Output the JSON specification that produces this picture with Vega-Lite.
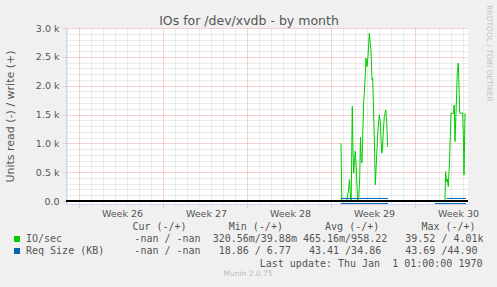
{
  "$schema": "https://vega.github.io/schema/vega-lite/v6.json",
  "width": 402,
  "height": 176,
  "autosize": "none",
  "padding": {"left": 66, "top": 28, "right": 29, "bottom": 83},
  "background": "#F0F0F0",
  "title": {"text": "Munin 2.0.75", "orient": "bottom", "anchor": "middle", "frame": "group", "dx": -19, "offset": 1, "font": "DejaVu Sans", "fontSize": 7.5, "fontWeight": "normal", "color": "#BBBBBB", "baseline": "top"},
  "config": {"view": {"fill": "white", "stroke": null}, "font": "DejaVu Sans"},
  "data": {"values": [
    {"s":"IO/sec","g":"w1","day":21.833,"v":1000},{"s":"IO/sec","g":"w1","day":21.9,"v":0},{"s":"IO/sec","g":"w1","day":22.0,"v":0},{"s":"IO/sec","g":"w1","day":22.167,"v":0},{"s":"IO/sec","g":"w1","day":22.333,"v":20},{"s":"IO/sec","g":"w1","day":22.458,"v":200},{"s":"IO/sec","g":"w1","day":22.542,"v":370},{"s":"IO/sec","g":"w1","day":22.625,"v":50},{"s":"IO/sec","g":"w1","day":22.683,"v":0},{"s":"IO/sec","g":"w1","day":22.775,"v":1640},{"s":"IO/sec","g":"w1","day":22.833,"v":900},{"s":"IO/sec","g":"w1","day":22.892,"v":480},{"s":"IO/sec","g":"w1","day":22.958,"v":700},{"s":"IO/sec","g":"w1","day":23.025,"v":860},{"s":"IO/sec","g":"w1","day":23.1,"v":600},{"s":"IO/sec","g":"w1","day":23.167,"v":250},{"s":"IO/sec","g":"w1","day":23.233,"v":0},{"s":"IO/sec","g":"w1","day":23.317,"v":60},{"s":"IO/sec","g":"w1","day":23.392,"v":400},{"s":"IO/sec","g":"w1","day":23.458,"v":1110},{"s":"IO/sec","g":"w1","day":23.517,"v":700},{"s":"IO/sec","g":"w1","day":23.583,"v":660},{"s":"IO/sec","g":"w1","day":23.667,"v":1300},{"s":"IO/sec","g":"w1","day":23.725,"v":1720},{"s":"IO/sec","g":"w1","day":23.792,"v":1920},{"s":"IO/sec","g":"w1","day":23.858,"v":2200},{"s":"IO/sec","g":"w1","day":23.917,"v":2480},{"s":"IO/sec","g":"w1","day":24.0,"v":2330},{"s":"IO/sec","g":"w1","day":24.083,"v":2500},{"s":"IO/sec","g":"w1","day":24.192,"v":2910},{"s":"IO/sec","g":"w1","day":24.267,"v":2750},{"s":"IO/sec","g":"w1","day":24.333,"v":2620},{"s":"IO/sec","g":"w1","day":24.417,"v":2100},{"s":"IO/sec","g":"w1","day":24.475,"v":2130},{"s":"IO/sec","g":"w1","day":24.542,"v":1600},{"s":"IO/sec","g":"w1","day":24.6,"v":1180},{"s":"IO/sec","g":"w1","day":24.692,"v":280},{"s":"IO/sec","g":"w1","day":24.767,"v":600},{"s":"IO/sec","g":"w1","day":24.833,"v":885},{"s":"IO/sec","g":"w1","day":24.917,"v":1250},{"s":"IO/sec","g":"w1","day":25.025,"v":1490},{"s":"IO/sec","g":"w1","day":25.108,"v":1380},{"s":"IO/sec","g":"w1","day":25.225,"v":830},{"s":"IO/sec","g":"w1","day":25.292,"v":900},{"s":"IO/sec","g":"w1","day":25.358,"v":1200},{"s":"IO/sec","g":"w1","day":25.442,"v":1460},{"s":"IO/sec","g":"w1","day":25.558,"v":1580},{"s":"IO/sec","g":"w1","day":25.625,"v":1450},{"s":"IO/sec","g":"w1","day":25.725,"v":940},
    {"s":"IO/sec","g":"w2","day":29.667,"v":0},{"s":"IO/sec","g":"w2","day":30.083,"v":0},{"s":"IO/sec","g":"w2","day":30.5,"v":0},{"s":"IO/sec","g":"w2","day":30.55,"v":510},{"s":"IO/sec","g":"w2","day":30.625,"v":335},{"s":"IO/sec","g":"w2","day":30.692,"v":380},{"s":"IO/sec","g":"w2","day":30.775,"v":250},{"s":"IO/sec","g":"w2","day":30.858,"v":595},{"s":"IO/sec","g":"w2","day":30.942,"v":1115},{"s":"IO/sec","g":"w2","day":31.0,"v":1520},{"s":"IO/sec","g":"w2","day":31.083,"v":1520},{"s":"IO/sec","g":"w2","day":31.192,"v":1520},{"s":"IO/sec","g":"w2","day":31.275,"v":1665},{"s":"IO/sec","g":"w2","day":31.333,"v":1030},{"s":"IO/sec","g":"w2","day":31.417,"v":1520},{"s":"IO/sec","g":"w2","day":31.525,"v":2215},{"s":"IO/sec","g":"w2","day":31.608,"v":2390},{"s":"IO/sec","g":"w2","day":31.667,"v":2000},{"s":"IO/sec","g":"w2","day":31.725,"v":1520},{"s":"IO/sec","g":"w2","day":31.833,"v":1520},{"s":"IO/sec","g":"w2","day":31.975,"v":1530},{"s":"IO/sec","g":"w2","day":32.042,"v":1000},{"s":"IO/sec","g":"w2","day":32.083,"v":450},{"s":"IO/sec","g":"w2","day":32.167,"v":1520},
    {"s":"IO/sec","g":"r1","day":21.808,"v":-0.5},{"s":"IO/sec","g":"r1","day":25.75,"v":-0.5},
    {"s":"IO/sec","g":"r2","day":29.667,"v":-0.5},{"s":"IO/sec","g":"r2","day":32.25,"v":-0.5},
    {"s":"Req Size (KB)","g":"w3","day":21.808,"v":44},{"s":"Req Size (KB)","g":"w3","day":25.75,"v":44},
    {"s":"Req Size (KB)","g":"w4","day":30.64,"v":44},{"s":"Req Size (KB)","g":"w4","day":32.25,"v":44},
    {"s":"Req Size (KB)","g":"r3","day":21.808,"v":-43},{"s":"Req Size (KB)","g":"r3","day":25.75,"v":-43},
    {"s":"Req Size (KB)","g":"r4","day":29.667,"v":-43},{"s":"Req Size (KB)","g":"r4","day":32.25,"v":-43}
  ]},
  "layer": [
    {
      "mark": {"type": "line", "strokeWidth": 1},
      "encoding": {
        "x": {"field": "day", "type": "quantitative",
          "scale": {"domain": [-1.083, 32.417], "nice": false, "zero": false},
          "axis": {"orient": "bottom",
            "values": [-1,0,1,2,3,4,5,6,7,8,9,10,11,12,13,14,15,16,17,18,19,20,21,22,23,24,25,26,27,28,29,30,31,32],
            "labelExpr": "datum.value % 7 === 0 ? 'Week ' + (26 + datum.value / 7) : ''",
            "labelOffset": 43, "labelFlush": false, "labelOverlap": false, "labelBound": false,
            "labelFont": "DejaVu Sans", "labelFontSize": 9.5, "labelColor": "#555555", "labelPadding": 0,
            "tickSize": 4, "tickDash": [1, 1],
            "tickColor": {"condition": {"test": "datum.value % 7 === 0", "value": "#F2A0A0"}, "value": "transparent"},
            "grid": true, "gridDash": [1, 1],
            "gridColor": {"condition": {"test": "datum.value % 7 === 0", "value": "#F2A0A0"}, "value": "#D6D6D6"},
            "domainColor": "#CFD6F8",
            "title": "Last\u00a0update:\u00a0Thu\u00a0Jan\u00a0\u00a01\u00a001:00:00\u00a01970",
            "titleFont": "DejaVu Sans Mono", "titleFontSize": 10, "titleFontWeight": "normal", "titleColor": "#555555",
            "titleX": 416, "titleY": 62.5, "titleAlign": "right", "titleBaseline": "alphabetic"}},
        "y": {"field": "v", "type": "quantitative",
          "scale": {"domain": [-52, 3000], "nice": false, "zero": false},
          "axis": {"orient": "left",
            "values": [0,100,200,300,400,500,600,700,800,900,1000,1100,1200,1300,1400,1500,1600,1700,1800,1900,2000,2100,2200,2300,2400,2500,2600,2700,2800,2900,3000],
            "labelExpr": "datum.value === 0 ? '0.0' : (datum.value % 500 === 0 ? format(datum.value / 1000, '.1f') + ' k' : '')",
            "labelFlush": false, "labelOverlap": false, "labelBound": false,
            "labelFont": "DejaVu Sans", "labelFontSize": 9.5, "labelColor": "#555555", "labelPadding": 4,
            "tickSize": 3, "tickDash": [1, 1],
            "tickColor": {"condition": {"test": "datum.value % 500 === 0", "value": "#F2A0A0"}, "value": "transparent"},
            "grid": true, "gridDash": [1, 1],
            "gridColor": {"condition": {"test": "datum.value % 500 === 0", "value": "#F2A0A0"}, "value": "#D6D6D6"},
            "domainColor": "#CFD6F8",
            "title": "Units read (-) / write (+)",
            "titleFont": "DejaVu Sans", "titleFontSize": 11, "titleFontWeight": "normal", "titleColor": "#555555",
            "titleX": -56, "titleY": 88, "titleAngle": -90, "titleAlign": "center", "titleBaseline": "middle"}},
        "color": {"field": "s", "type": "nominal",
          "scale": {"domain": ["IO/sec", "Req Size (KB)"], "range": ["#00CC00", "#0066B3"]},
          "legend": {"orient": "none", "legendX": -54, "legendY": 194, "direction": "vertical",
            "title": "\u200b\u00a0\u00a0\u00a0\u00a0\u00a0\u00a0\u00a0\u00a0\u00a0\u00a0\u00a0\u00a0\u00a0\u00a0\u00a0\u00a0\u00a0\u00a0\u00a0\u00a0Cur\u00a0(-/+)\u00a0\u00a0\u00a0\u00a0\u00a0\u00a0\u00a0Min\u00a0(-/+)\u00a0\u00a0\u00a0\u00a0\u00a0\u00a0\u00a0Avg\u00a0(-/+)\u00a0\u00a0\u00a0\u00a0\u00a0\u00a0\u00a0Max\u00a0(-/+)",
            "titleFont": "DejaVu Sans Mono", "titleFontSize": 10, "titleFontWeight": "normal", "titleColor": "#555555",
            "titleLimit": 1000, "titlePadding": 2, "titleAnchor": "start",
            "labelFont": "DejaVu Sans Mono", "labelFontSize": 10, "labelColor": "#555555", "labelLimit": 1000, "labelOffset": 4,
            "labelExpr": "datum.label === 'IO/sec' ? 'IO/sec\u00a0\u00a0\u00a0\u00a0\u00a0\u00a0\u00a0\u00a0\u00a0\u00a0\u00a0\u00a0-nan\u00a0/\u00a0-nan\u00a0\u00a0320.56m/39.88m\u00a0465.16m/958.22\u00a0\u00a0\u00a039.52\u00a0/\u00a04.01k' : 'Req\u00a0Size\u00a0(KB)\u00a0\u00a0\u00a0\u00a0\u00a0-nan\u00a0/\u00a0-nan\u00a0\u00a0\u00a018.86\u00a0/\u00a06.77\u00a0\u00a0\u00a043.41\u00a0/34.86\u00a0\u00a0\u00a0\u00a043.69\u00a0/44.90'",
            "symbolType": "square", "symbolSize": 36, "symbolStrokeWidth": 0, "rowPadding": 2, "padding": 0,
            "encode": {"symbols": {"update": {"fill": {"scale": "color", "field": "value"}, "fillOpacity": {"value": 1}, "opacity": {"value": 1}}}}}},
        "detail": {"field": "g"}
      }
    },
    {
      "mark": {"type": "rule", "color": "black", "strokeWidth": 1},
      "encoding": {
        "x": {"datum": -1.083, "type": "quantitative",
          "scale": {"domain": [-1.083, 32.417], "nice": false, "zero": false},
          "axis": {"orient": "top", "labels": false, "ticks": false, "domain": false, "grid": false,
            "title": "IOs for /dev/xvdb - by month",
            "titleFont": "DejaVu Sans", "titleFontSize": 12.5, "titleFontWeight": "normal", "titleColor": "#555555",
            "titleX": 182.5, "titleY": -3.5, "titleAlign": "center", "titleBaseline": "alphabetic"}},
        "x2": {"datum": 32.417},
        "y": {"datum": 0, "type": "quantitative",
          "scale": {"domain": [-52, 3000], "nice": false, "zero": false},
          "axis": {"orient": "right", "labels": false, "ticks": false, "domain": false, "grid": false,
            "title": "RRDTOOL / TOBI OETIKER",
            "titleFont": "DejaVu Sans", "titleFontSize": 7.5, "titleFontWeight": "normal", "titleColor": "#C4C4C4",
            "titleX": 20, "titleY": 25, "titleAngle": 90, "titleAlign": "center", "titleBaseline": "middle"}}
      }
    }
  ],
  "resolve": {"axis": {"x": "independent", "y": "independent"}}
}
